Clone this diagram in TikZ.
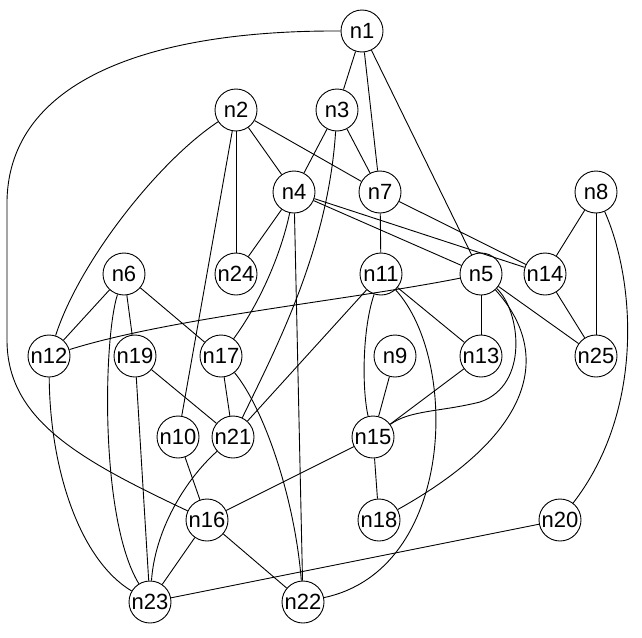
\documentclass[tikz,border=0pt]{standalone}
\usepackage{fontspec}
\setmainfont{Liberation Sans}
\begin{document}
\begin{tikzpicture}[x=1pt,y=-1pt,
  vtx/.style={circle,draw,fill=white,line width=0.9pt,minimum size=42pt,inner sep=0pt,font=\fontsize{22}{22}\selectfont},
  edge/.style={line width=0.9pt}]
\useasboundingbox (0,0) rectangle (642,637);
\node[vtx] (n1) at (362,31) {n1};
\node[vtx] (n2) at (236,110) {n2};
\node[vtx] (n3) at (337,110) {n3};
\node[vtx] (n4) at (294,192) {n4};
\node[vtx] (n7) at (380,192) {n7};
\node[vtx] (n8) at (596,192) {n8};
\node[vtx] (n6) at (124,274) {n6};
\node[vtx] (n24) at (236,274) {n24};
\node[vtx] (n11) at (381,274) {n11};
\node[vtx] (n5) at (481,274) {n5};
\node[vtx] (n14) at (545,274) {n14};
\node[vtx] (n12) at (49,356) {n12};
\node[vtx] (n19) at (135,356) {n19};
\node[vtx] (n17) at (221,356) {n17};
\node[vtx] (n9) at (395,356) {n9};
\node[vtx] (n13) at (481,356) {n13};
\node[vtx] (n25) at (596,356) {n25};
\node[vtx] (n10) at (178,437) {n10};
\node[vtx] (n21) at (233,437) {n21};
\node[vtx] (n15) at (373,437) {n15};
\node[vtx] (n16) at (207,520) {n16};
\node[vtx] (n18) at (379,520) {n18};
\node[vtx] (n20) at (560,520) {n20};
\node[vtx] (n23) at (150,602) {n23};
\node[vtx] (n22) at (303,602) {n22};
% straight edges
\foreach \a/\b in {n1/n3,n1/n7,n1/n5,n2/n4,n2/n7,n2/n24,n2/n10,n3/n4,n3/n7,
  n4/n24,n4/n22,n4/n5,n4/n14,n7/n11,n7/n14,n8/n14,n8/n25,n6/n12,n6/n19,n6/n17,
  n11/n21,n11/n13,n5/n13,n5/n25,n14/n25,n19/n21,n19/n23,n17/n21,n9/n15,n13/n15,
  n10/n16,n15/n16,n15/n18,n16/n23,n16/n22,n20/n23}
  \draw[edge] (\a) -- (\b);
% curved edges
\draw[edge] (n1.west) .. controls (150,30) and (10,80) .. (7,200) -- (7,340)
  .. controls (7,420) and (80,460) .. (n16);
\draw[edge] (n2) .. controls (160,160) and (80,260) .. (n12);
\draw[edge] (n3) .. controls (328,250) and (275,350) .. (n21);
\draw[edge] (n4) .. controls (282,250) and (262,300) .. (n17);
\draw[edge] (n11) .. controls (362,330) and (362,390) .. (n15);
\draw[edge] (n11) .. controls (460,360) and (455,570) .. (n22);
\draw[edge] (n5) .. controls (350,300) and (170,318) .. (n12);
\draw[edge] (n5) .. controls (520,310) and (530,385) .. (480,402)
  .. controls (440,412) and (410,410) .. (n15);
\draw[edge] (n5) .. controls (550,350) and (540,430) .. (n18);
\draw[edge] (n8) .. controls (635,280) and (645,410) .. (n20);
\draw[edge] (n6) .. controls (103,340) and (100,520) .. (n23);
\draw[edge] (n12) .. controls (50,470) and (80,560) .. (n23);
\draw[edge] (n21) .. controls (185,480) and (155,530) .. (n23);
\draw[edge] (n17) .. controls (265,410) and (295,500) .. (n22);
\end{tikzpicture}
\end{document}
